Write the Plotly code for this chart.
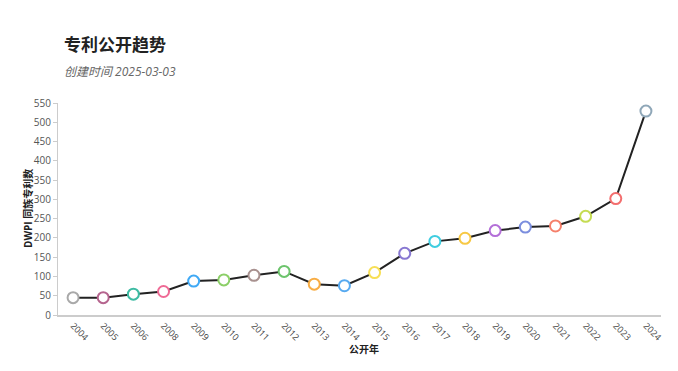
import plotly.graph_objects as go

years = ["2004", "2005", "2006", "2008", "2009", "2010", "2011", "2012", "2013", "2014",
         "2015", "2016", "2017", "2018", "2019", "2020", "2021", "2022", "2023", "2024"]
counts = [45, 45, 54, 61, 88, 91, 103, 113, 80, 76,
          110, 160, 191, 199, 219, 228, 231, 256, 302, 529]
marker_colors = ["#a9a9a9", "#b5648e", "#3dbba3", "#ef6a95", "#3fa9f5", "#8ccf68", "#a8918f",
                 "#6cc46c", "#f8ad45", "#57aaf0", "#f7df55", "#8878d2", "#3fcde0", "#f7c844",
                 "#b36fd8", "#7b8ede", "#f5806b", "#c5dc52", "#f36e6e", "#8fa7b8"]

# page has an 8px body margin, so the figure is drawn at (8, 8) in the window
OFF = 8
W, H = 678 - OFF, 371 - OFF
L = 58 - OFF
R = W - (661 - OFF)
T = 103 - OFF
B = H - (315 - OFF)
pw = W - L - R
ph = H - T - B

def px_x(x):
    return (x - OFF - L) / pw

def px_y(y):
    return (H - B - (y - OFF)) / ph

fig = go.Figure()
fig.add_trace(go.Scatter(
    x=years, y=counts, mode="lines+markers",
    line=dict(color="#222222", width=2),
    marker=dict(size=11, color="white", line=dict(color=marker_colors, width=2)),
    hoverinfo="x+y", showlegend=False,
))

font_family = "Open Sans, Noto Sans CJK SC, sans-serif"

fig.update_layout(
    width=W, height=H,
    margin=dict(l=L, r=R, t=T, b=B, autoexpand=False),
    paper_bgcolor="white", plot_bgcolor="white",
    font=dict(family=font_family, color="#333"),
    xaxis=dict(
        type="category", range=[-0.5, len(years) - 0.5],
        showline=True, linecolor="#cccccc", linewidth=2,
        showgrid=False, zeroline=False,
        ticks="", tickangle=45,
        tickfont=dict(size=9, color="#444"),
        fixedrange=True,
    ),
    yaxis=dict(
        range=[0, 550], dtick=50, tick0=0,
        showline=True, linecolor="#cccccc", linewidth=1,
        showgrid=False, zeroline=False,
        ticks="outside", ticklen=4, tickcolor="#cccccc",
        tickfont=dict(size=10, color="#555"),
        fixedrange=True,
    ),
    annotations=[
        dict(text="<b>专利公开趋势</b>", xref="paper", yref="paper",
             x=px_x(62), y=px_y(45), xanchor="left", yanchor="middle",
             showarrow=False, font=dict(size=17, color="#222", family=font_family)),
        dict(text="<i>创建时间 2025-03-03</i>", xref="paper", yref="paper",
             x=px_x(62), y=px_y(71), xanchor="left", yanchor="middle",
             showarrow=False, font=dict(size=12, color="#666", family=font_family)),
        dict(text="<b>DWPI 同族专利数</b>", xref="paper", yref="paper",
             x=px_x(28), y=px_y(209), xanchor="center", yanchor="middle",
             textangle=-90, showarrow=False,
             font=dict(size=10, color="#222", family=font_family)),
        dict(text="<b>公开年</b>", xref="paper", yref="paper",
             x=px_x(364), y=px_y(349), xanchor="center", yanchor="middle",
             showarrow=False, font=dict(size=10, color="#222", family=font_family)),
    ],
)

fig.write_html("out.html")
